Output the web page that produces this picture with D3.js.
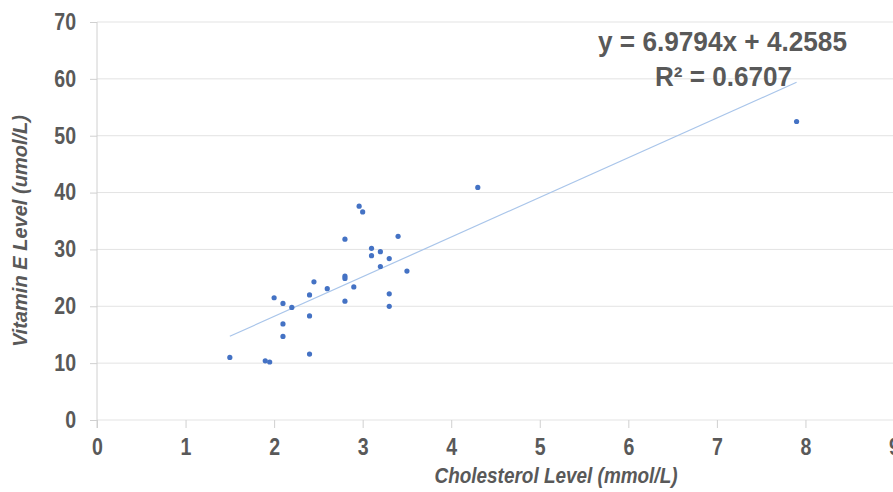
<!DOCTYPE html>
<html>
<head>
<meta charset="utf-8">
<script src="https://cdn.jsdelivr.net/npm/d3@7"></script>
<style>
  body { margin: 0; background: #fff; }
  svg text { font-family: "Liberation Sans", Arial, sans-serif; fill: #595959; font-weight: bold; }
</style>
</head>
<body>
<svg width="893" height="492"></svg>
<script>
// data
var cholesterol = [1.5, 1.9, 1.95, 2.0, 2.1, 2.2, 2.1, 2.1, 2.4, 2.45, 2.4, 2.4, 2.6, 2.8, 2.8, 2.8, 2.8, 2.9,
                   2.96, 3.0, 3.1, 3.1, 3.2, 3.2, 3.3, 3.3, 3.3, 3.4, 3.5, 4.3, 7.9];
var vitaminE = [11.0, 10.4, 10.2, 21.5, 20.5, 19.8, 16.9, 14.7, 22.0, 24.3, 18.3, 11.6, 23.1, 31.8, 25.3, 24.9, 20.9, 23.4,
                37.6, 36.6, 30.2, 28.9, 29.6, 27.0, 28.4, 22.2, 20.0, 32.3, 26.2, 40.9, 52.5];
var xTicks = [0, 1, 2, 3, 4, 5, 6, 7, 8, 9];
var yTicks = [0, 10, 20, 30, 40, 50, 60, 70];
var slope = 6.9794, intercept = 4.2585;
var eqLabel = "y = 6.9794x + 4.2585";
var r2Label = "R² = 0.6707";

var svg = d3.select("svg"),
    margin = {top: 22, left: 97, bottom: 72},
    height = +svg.attr("height");

var x = d3.scaleLinear().domain([0, 9]).range([margin.left, 894]);
var y = d3.scaleLinear().domain([0, 70]).range([height - margin.bottom, margin.top]);

var squeeze = 0.85; // tick labels look horizontally narrow in the original

// gridlines
svg.append("g").selectAll("line")
    .data(yTicks)
    .enter().append("line")
    .attr("x1", x(0)).attr("x2", 893)
    .attr("y1", function(d) { return y(d); })
    .attr("y2", function(d) { return y(d); })
    .attr("stroke", "#e3e3e3").attr("stroke-width", 1);

// y axis
var yAxis = svg.append("g")
    .attr("transform", "translate(" + x(0) + ",0)")
    .call(d3.axisLeft(y).tickValues(yTicks).tickSize(7).tickPadding(14).tickSizeOuter(0));
yAxis.select(".domain").attr("stroke", "#d0d0d0").attr("d", "M0," + y(70) + "V" + (y(0) + 8));
yAxis.selectAll(".tick line").attr("stroke", "#d0d0d0");
yAxis.selectAll(".tick text")
    .attr("font-size", 23).attr("fill", "#595959")
    .attr("x", -21 / squeeze)
    .attr("transform", "scale(" + squeeze + ",1)")
    .style("font-family", "'Liberation Sans', Arial, sans-serif");

// x axis
var xAxis = svg.append("g")
    .attr("transform", "translate(0," + y(0) + ")")
    .call(d3.axisBottom(x).tickValues(xTicks).tickSize(8).tickPadding(11).tickSizeOuter(0));
xAxis.select(".domain").remove();
xAxis.selectAll(".tick line").attr("stroke", "#d0d0d0");
xAxis.selectAll(".tick text")
    .attr("font-size", 23).attr("fill", "#595959")
    .attr("transform", "scale(" + squeeze + ",1)")
    .style("font-family", "'Liberation Sans', Arial, sans-serif");

// axis titles
svg.append("text")
    .attr("x", 556).attr("y", 483)
    .attr("text-anchor", "middle")
    .attr("font-size", 21.5).attr("font-style", "italic")
    .attr("textLength", 243).attr("lengthAdjust", "spacingAndGlyphs")
    .text("Cholesterol Level (mmol/L)");

svg.append("text")
    .attr("transform", "translate(27,231) rotate(-90)")
    .attr("text-anchor", "middle")
    .attr("font-size", 20.5).attr("font-style", "italic")
    .attr("textLength", 232).attr("lengthAdjust", "spacingAndGlyphs")
    .text("Vitamin E Level (umol/L)");

// trendline
var x0 = d3.min(cholesterol), x1 = d3.max(cholesterol);
svg.append("line")
    .attr("x1", x(x0)).attr("y1", y(slope * x0 + intercept))
    .attr("x2", x(x1)).attr("y2", y(slope * x1 + intercept))
    .attr("stroke", "#a9c5ea").attr("stroke-width", 1.2);

// points
svg.append("g").selectAll("circle")
    .data(cholesterol)
    .enter().append("circle")
    .attr("cx", function(d) { return x(d); })
    .attr("cy", function(d, i) { return y(vitaminE[i]); })
    .attr("r", 2.6)
    .attr("fill", "#4472c4");

// equation
svg.append("text")
    .attr("x", 598).attr("y", 51)
    .attr("font-size", 27)
    .attr("textLength", 249).attr("lengthAdjust", "spacingAndGlyphs")
    .text(eqLabel);
svg.append("text")
    .attr("x", 655).attr("y", 86)
    .attr("font-size", 27)
    .attr("textLength", 137).attr("lengthAdjust", "spacingAndGlyphs")
    .text(r2Label);
</script>
</body>
</html>
